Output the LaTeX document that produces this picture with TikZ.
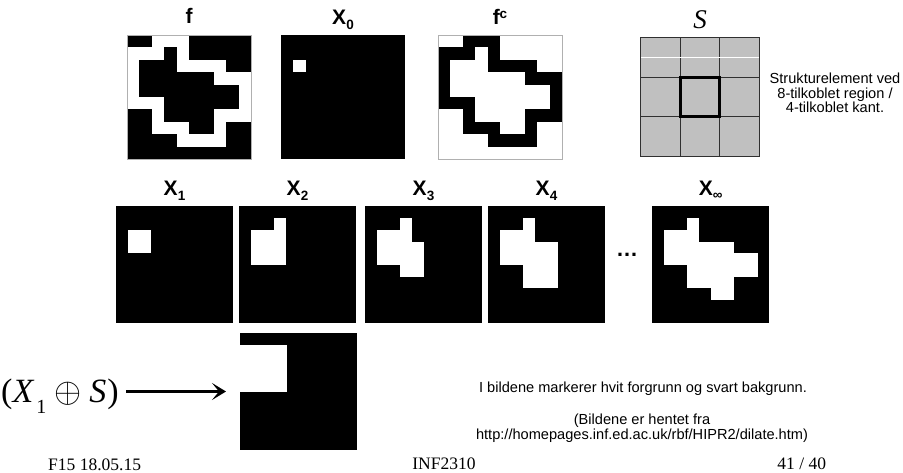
\documentclass[tikz,border=0pt]{standalone}
\usepackage{fontspec}
\setmainfont{Liberation Sans}
\newfontfamily\timesfont{Liberation Serif}
\usetikzlibrary{arrows.meta,positioning,calc}
\definecolor{selgray}{HTML}{C0C0C0}
\definecolor{rimgray}{HTML}{B0B0B0}
\definecolor{gridcol}{HTML}{303030}

% small raised/lowered index for the labels
\newcommand{\lsub}[2][-5pt]{\raisebox{#1}{\fontsize{13.5}{13.5}\selectfont#2}}
\newcommand{\lsup}[1]{\raisebox{6pt}{\fontsize{13.5}{13.5}\selectfont#1}}
% fill cells row/firstcol/lastcol of an image node
\newcommand{\celler}[4]{%
  \foreach \r/\a/\b in #4
    \fill[#1] ($(#2.north west)+({\a*#3},{\r*#3})$) rectangle ($(#2.north west)+({(\b+1)*#3},{(\r+1)*#3})$);
}
\def\fkant{0/2/4, 1/0/2, 1/4/4, 2/0/0, 2/4/7, 3/0/0, 3/7/9, 4/0/0, 4/9/9, 5/0/2, 5/9/9, 6/2/2, 6/7/9, 7/2/4, 7/7/7, 8/4/7}
\def\xnull{2/1/1}
\def\xen{2/1/2, 3/1/2}
\def\xto{1/3/3, 2/1/3, 3/1/3, 4/1/3}
\def\xtre{1/3/3, 2/1/3, 3/1/4, 4/1/4, 5/3/4}
\def\xfire{1/3/3, 2/1/3, 3/1/5, 4/1/5, 5/3/5, 6/3/5}
\def\xuendelig{1/3/3, 2/1/3, 3/1/6, 4/1/8, 5/3/8, 6/3/6, 7/5/6}
\def\xbunn{1/0/3, 2/0/3, 3/0/3, 4/0/3}

\tikzset{
  bild/.style={fill=black,inner sep=0pt,outer sep=0pt,minimum size=#1},
  bild/.default=117pt,
  lab/.style={font=\fontsize{21}{21}\selectfont\bfseries,inner sep=0pt,anchor=base},
  note/.style={font={\fontsize{14.6}{14.6}\selectfont\lineskiplimit=-20pt},align=center,inner sep=0pt},
  foot/.style={font=\timesfont\fontsize{17.5}{17.5}\selectfont,inner sep=0pt,anchor=base},
  pil/.style={line width=2.5pt,-{Stealth[length=14pt,width=17pt,inset=7pt]}},
}

\begin{document}
\begin{tikzpicture}[x=1pt,y=-1pt]
  \useasboundingbox (0,0) rectangle (903,473);
  % top row
  \node[bild=124pt] (f) at (189,97) {};
  \celler{white}{f}{12.4}{\fkant}
  \draw[rimgray] (f.north west) rectangle (f.south east);
  \node[bild=124pt] (x0) at (343,97) {};
  \celler{white}{x0}{12.4}{\xnull}
  \node[bild=124pt,fill=white] (fc) at (500,97) {};
  \celler{black}{fc}{12.4}{\fkant}
  \draw[rimgray] (fc.north west) rectangle (fc.south east);
  \node[bild=118.5pt,fill=selgray,draw=gridcol,line width=0.8pt] (s) at (700,97) {};
  \foreach \i in {1,2} {
    \draw[gridcol,line width=0.8pt] ($(s.north west)+(\i*39.5,0)$) -- ($(s.south west)+(\i*39.5,0)$);
    \draw[gridcol,line width=0.8pt] ($(s.north west)+(0,\i*39.5)$) -- ($(s.north east)+(0,\i*39.5)$);
  }
  \draw[white,line width=0.8pt] ($(s.north west)+(0.4,20)$) -- ($(s.north east)+(-0.4,20)$);
  \draw[line width=3pt] ($(s.north west)+(39.5,39.5)$) rectangle ($(s.north west)+(79,79)$);

  \node[lab] (fl) at ([yshift=11pt]f.north) {f};
  \node[lab] (x0l) at ([yshift=10pt]x0.north) {X\lsub{0}};
  \node[lab] (fcl) at ([yshift=10pt]fc.north) {f\lsup{c}};
  \node[inner sep=0pt,anchor=base,font=\timesfont\itshape\fontsize{27}{27}\selectfont] (sl) at ([yshift=9pt]s.north) {S};
  \node[note] (snote) at (835,93) {Strukturelement ved\\8-tilkoblet region /\\4-tilkoblet kant.};

  % iterations
  \node[bild] (x1) at (174.5,265) {};
  \celler{white}{x1}{11.7}{\xen}
  \node[bild] (x2) at (297.5,265) {};
  \celler{white}{x2}{11.7}{\xto}
  \node[bild] (x3) at (423.5,265) {};
  \celler{white}{x3}{11.7}{\xtre}
  \node[bild] (x4) at (546.5,265) {};
  \celler{white}{x4}{11.7}{\xfire}
  \node[bild] (xu) at (710.8,265) {};
  \celler{white}{xu}{11.7}{\xuendelig}
  \foreach \n/\t in {x1/1,x2/2,x3/3,x4/4}
    \node[lab] (\n l) at ([yshift=11pt]\n.north) {X\lsub{\t}};
  \node[lab] (xul) at ([yshift=11pt]xu.north) {X\lsub[-4pt]{∞}};
  \node[font=\fontsize{22}{22}\selectfont\bfseries,inner sep=0pt] (prikk) at (627,255) {…};

  % dilation of X1
  \node[bild] (bunn) at (298.5,391.5) {};
  \celler{white}{bunn}{11.7}{\xbunn}
  \node[inner sep=0pt,anchor=base west,font=\timesfont\fontsize{34}{34}\selectfont] (formel) at (1,402)
    {(\textit{X}\hspace{2pt}\raisebox{-11pt}{\fontsize{20}{20}\selectfont 1}\hspace{8pt}\scalebox{1.4}{$\oplus$}\hspace{8pt}\textit{S}\hspace{1pt})};
  \draw[pil,shorten <=7pt,shorten >=14pt] (formel.east |- bunn.west) -- (bunn.west);

  % notes and footer
  \node[note,anchor=base] (merk) at (643,392) {I bildene markerer hvit forgrunn og svart bakgrunn.};
  \node[note] (kilde) at (642,428) {(Bildene er hentet fra\\http://homepages.inf.ed.ac.uk/rbf/HIPR2/dilate.htm)};
  \node[foot,anchor=base west] (dato) at (48,470) {F15 18.05.15};
  \node[foot] (kurs) at (444,469) {INF2310};
  \node[foot] (side) at (801.7,469) {41 / 40};
\end{tikzpicture}
\end{document}
